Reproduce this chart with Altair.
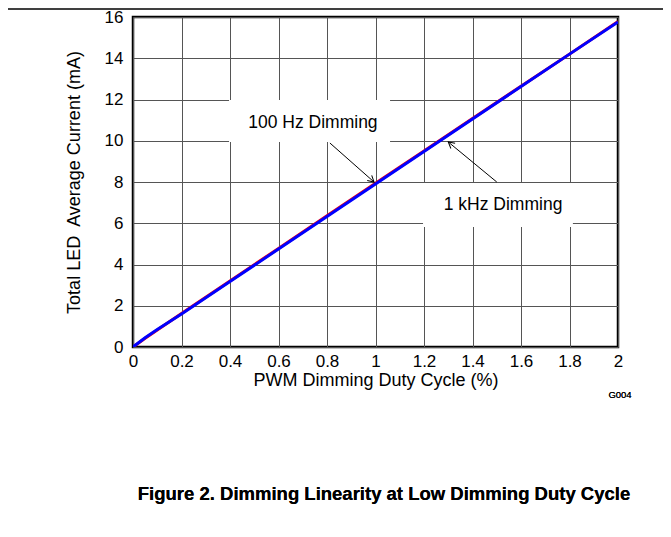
import altair as alt
import pandas as pd

# Series data (PWM duty cycle %, average current mA)
duty = [0, 0.05, 0.1, 0.2, 0.4, 0.6, 0.8, 1.0, 1.2, 1.4, 1.6, 1.8, 2.0]
i_1khz = [0, 0.45, 0.85, 1.60, 3.17, 4.75, 6.33, 7.90, 9.48, 11.06, 12.63, 14.20, 15.76]
i_100hz = [0, 0.42, 0.82, 1.62, 3.20, 4.78, 6.36, 7.94, 9.50, 11.08, 12.64, 14.20, 15.78]

# Annotations (data coordinates)
ann_text = ["100 Hz Dimming", "1 kHz Dimming"]
ann_x = [0.742, 1.526]
ann_y = [10.86, 6.88]
box_x1 = [0.396, 1.196]
box_x2 = [1.06, 1.814]
box_y1 = [9.94, 5.82]
box_y2 = [11.98, 7.95]
arr_x1 = [0.812, 1.50]
arr_y1 = [9.89, 8.00]
arr_x2 = [0.994, 1.30]
arr_y2 = [8.00, 9.94]
arr_angle = [41.6, 219.2]

FONT = "Liberation Sans"

rows = []
for x, a, b in zip(duty, i_100hz, i_1khz):
    rows.append({"duty": x, "current": a, "series": "100 Hz"})
    rows.append({"duty": x, "current": b, "series": "1 kHz"})
df = pd.DataFrame(rows)

ann = pd.DataFrame({
    "text": ann_text, "x": ann_x, "y": ann_y,
    "bx1": box_x1, "bx2": box_x2, "by1": box_y1, "by2": box_y2,
    "ax1": arr_x1, "ay1": arr_y1, "ax2": arr_x2, "ay2": arr_y2,
    "angle": arr_angle,
})

xscale = alt.Scale(domain=[0, 2], nice=False)
yscale = alt.Scale(domain=[0, 16], nice=False)

xaxis = alt.Axis(values=[0, 0.2, 0.4, 0.6, 0.8, 1, 1.2, 1.4, 1.6, 1.8, 2],
                 format="~g", title="PWM Dimming Duty Cycle (%)",
                 ticks=False, domain=False, labelPadding=6, titlePadding=2,
                 labelFlush=False, grid=True)
yaxis = alt.Axis(values=list(range(0, 17, 2)), title="Total LED\u00a0 Average Current (mA)",
                 ticks=False, domain=False, labelPadding=10, titlePadding=21,
                 labelFlush=False, grid=True)

lines = alt.Chart(df).mark_line(strokeWidth=3, clip=True).encode(
    x=alt.X("duty:Q", scale=xscale, axis=xaxis),
    y=alt.Y("current:Q", scale=yscale, axis=yaxis),
    color=alt.Color("series:N", scale=alt.Scale(domain=["100 Hz", "1 kHz"],
                                                range=["#FF0000", "#0000FF"]), legend=None),
    order=alt.Order("duty:Q"),
)

boxes = alt.Chart(ann).mark_rect(fill="white").encode(
    x="bx1:Q", x2="bx2:Q", y="by1:Q", y2="by2:Q")

texts = alt.Chart(ann).mark_text(font=FONT, fontSize=17.5, color="black",
                                 align="center", baseline="middle").encode(
    x="x:Q", y="y:Q", text="text:N")

arrows = alt.Chart(ann).mark_rule(color="black", strokeWidth=1).encode(
    x="ax1:Q", y="ay1:Q", x2="ax2:Q", y2="ay2:Q")

heads = alt.Chart(ann).mark_point(shape="M-1,-0.55 L0,0 L-1,0.55", size=150,
                                  filled=False, color="black", strokeWidth=1,
                                  opacity=1).encode(
    x="ax2:Q", y="ay2:Q", angle=alt.Angle("angle:Q", scale=None))

top_rule = alt.Chart(ann).mark_rule(color="black", strokeWidth=1).encode(
    x=alt.value(-125), x2=alt.value(530), y=alt.value(-8))

g004 = alt.Chart(ann).mark_text(font=FONT, fontSize=9.5, color="black",
                                align="center", baseline="middle", text="G004").encode(
    x=alt.value(487), y=alt.value(378))

caption = alt.Chart(ann).mark_text(font=FONT, fontSize=18.5, fontWeight="bold", color="black",
                                   align="center", baseline="middle",
                                   text="Figure 2. Dimming Linearity at Low Dimming Duty Cycle").encode(
    x=alt.value(251), y=alt.value(477))

chart = alt.layer(lines, boxes, texts, arrows, heads, top_rule, g004, caption).properties(
    width=485, height=330,
    autosize=alt.AutoSizeParams(type="none"),
    padding={"left": 125, "top": 9, "right": 45, "bottom": 182},
    background="white",
).configure_view(
    stroke="black", strokeWidth=2.5
).configure_axis(
    labelFont=FONT, titleFont=FONT, labelFontSize=17, titleFontSize=18,
    labelColor="black", titleColor="black", titleFontWeight="normal",
    gridColor="#555555", gridWidth=1, gridOpacity=1,
)

chart.save("out.html", embed_options={"renderer": "svg", "actions": False})
